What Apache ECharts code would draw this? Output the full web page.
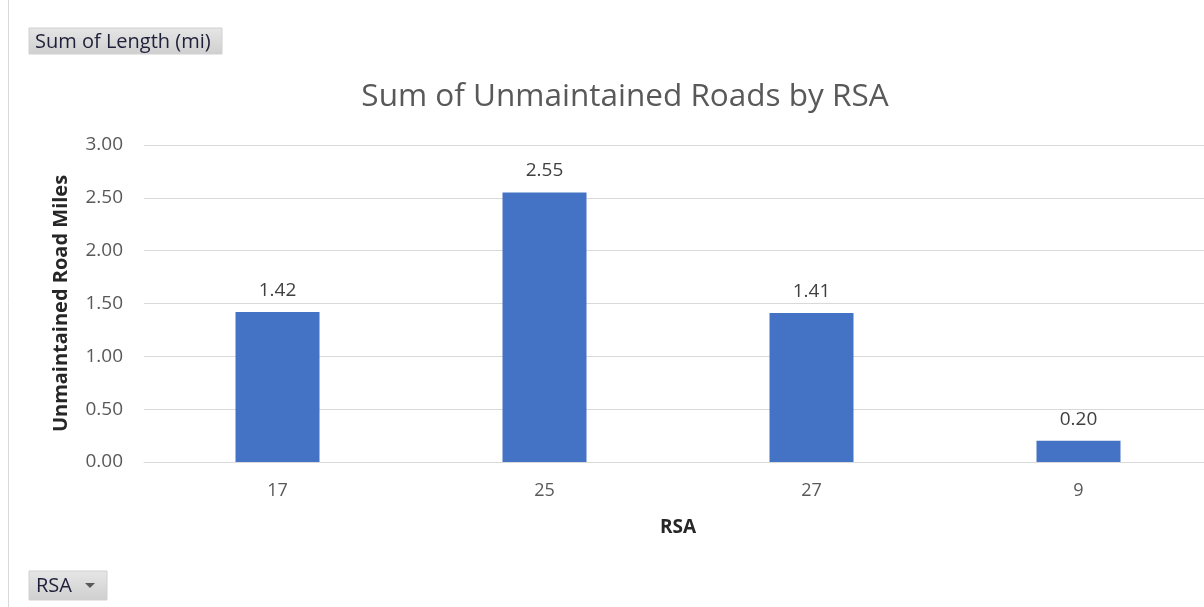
<!DOCTYPE html>
<html><head><meta charset="utf-8">
<script src="https://cdn.jsdelivr.net/npm/echarts@6/dist/echarts.min.js"></script>
<style>html,body{margin:0;padding:0;background:#fff;overflow:hidden}#c{width:1212px;height:607px}</style>
</head><body><div id="c"></div>
<script>
const categories = ['17', '25', '27', '9'];
const values = [1.42, 2.55, 1.41, 0.20];
const yTicks = [0, 0.5, 1, 1.5, 2, 2.5, 3];

const chart = echarts.init(document.getElementById('c'));
const font = '"Open Sans", "Noto Sans", sans-serif';
chart.setOption({
  backgroundColor: '#fff',
  animation: false,
  title: {
    text: 'Sum of Unmaintained Roads by RSA',
    left: 620, top: 76, textAlign: 'center',
    textStyle: {fontFamily: font, fontSize: 31.5, fontWeight: 'normal', color: '#595959'}
  },
  grid: {left: 144, right: 0, top: 145, bottom: 145},
  xAxis: {
    type: 'category', data: categories,
    name: 'RSA', nameLocation: 'middle', nameGap: 56,
    nameTextStyle: {fontFamily: font, fontSize: 19, fontWeight: 'bold', color: '#262626'},
    axisLine: {lineStyle: {color: '#d9d9d9', width: 1}},
    axisTick: {show: false},
    axisLabel: {fontFamily: font, fontSize: 18, color: '#595959', margin: 20}
  },
  yAxis: {
    type: 'value', min: yTicks[0], max: yTicks[yTicks.length - 1], interval: 0.5,
    name: 'Unmaintained Road Miles', nameLocation: 'middle', nameGap: 73,
    nameTextStyle: {fontFamily: font, fontSize: 20, fontWeight: 'bold', color: '#262626'},
    axisLine: {show: false}, axisTick: {show: false},
    splitLine: {lineStyle: {color: '#d9d9d9', width: 1}},
    axisLabel: {fontFamily: font, fontSize: 19, color: '#595959', margin: 21,
      formatter: v => v.toFixed(2)}
  },
  series: [{
    type: 'bar', data: values, barWidth: 84,
    itemStyle: {color: '#4472c4'},
    label: {show: true, position: 'top', distance: 12, fontFamily: font, fontSize: 19, color: '#404040',
      formatter: p => p.value.toFixed(2)}
  }],
  graphic: [
    {type: 'line', shape: {x1: 8.5, y1: 0, x2: 8.5, y2: 607}, style: {stroke: '#d9d9d9', lineWidth: 1}},
    {type: 'rect', shape: {x: 29, y: 28, width: 193, height: 26},
      style: {fill: new echarts.graphic.LinearGradient(0, 0, 0, 1, [{offset: 0, color: '#e6e6e6'}, {offset: 1, color: '#cfcfcf'}]), stroke: '#d0d0d0'}},
    {type: 'text', x: 35, y: 42, style: {text: 'Sum of Length (mi)', fontFamily: font, fontSize: 20, fill: '#1f1f3a', verticalAlign: 'middle'}},
    {type: 'rect', shape: {x: 29, y: 571, width: 78, height: 29},
      style: {fill: new echarts.graphic.LinearGradient(0, 0, 0, 1, [{offset: 0, color: '#e6e6e6'}, {offset: 1, color: '#cfcfcf'}]), stroke: '#d0d0d0'}},
    {type: 'text', x: 36, y: 586, style: {text: 'RSA', fontFamily: font, fontSize: 20, fill: '#1f1f3a', verticalAlign: 'middle'}},
    {type: 'polygon', shape: {points: [[85, 583], [95, 583], [90, 588]]}, style: {fill: '#595959'}}
  ]
});
</script></body></html>
